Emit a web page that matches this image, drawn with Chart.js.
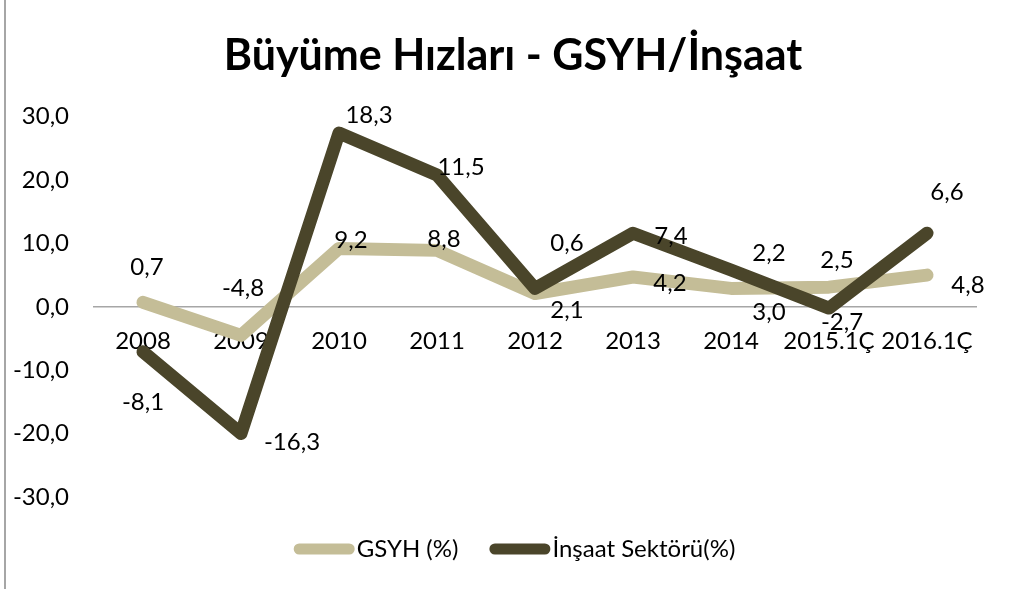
<!DOCTYPE html>
<html><head><meta charset="utf-8">
<script src="https://cdn.jsdelivr.net/npm/chart.js@4"></script>
<style>
html,body{margin:0;padding:0;background:#fff;}
#wrap{position:relative;width:1013px;height:589px;}
#frame{position:absolute;left:4px;top:0;width:2px;height:589px;background:#a6a6a6;}
canvas{position:absolute;left:0;top:0;}
</style></head><body>
<div id="wrap"><canvas id="c" width="1013" height="589"></canvas><div id="frame"></div></div>
<script>
const categories = ['2008','2009','2010','2011','2012','2013','2014','2015.1Ç','2016.1Ç'];
const gsyhValues = [0.7, -4.5, 9.2, 8.9, 2.1, 4.7, 2.9, 3.1, 5.0];
const insaatValues = [-7.1, -20.0, 27.4, 20.8, 2.9, 11.6, 5.8, -0.2, 11.6];
const gsyhLabels = ['0,7','-4,8','9,2','8,8','2,1','4,2','3,0','2,5','4,8'];
const insaatLabels = ['-8,1','-16,3','18,3','11,5','0,6','7,4','2,2','-2,7','6,6'];
const yTickValues = [-30,-20,-10,0,10,20,30];
const seriesNames = ['GSYH (%)','İnşaat Sektörü(%)'];
const chartTitle = 'Büyüme Hızları - GSYH/İnşaat';

// label placement relative to each point (pixels)
const gsyhLabelOffsets = [[4,-35],[2,-47],[12,-8],[7,-11],[32,17],[37,6],[38,24],[8,-27],[41,10]];
const insaatLabelOffsets = [[0,50],[51,9],[30,-18],[24,-8],[32,-45],[38,3],[38,-17],[13,14],[20,-41]];

const FONT = 'Lato, "Open Sans", sans-serif';
const TXT = 24;
Chart.defaults.font.family = FONT;
Chart.defaults.color = '#000';

const pointLabelPlugin = {
  id: 'pointLabels',
  afterDatasetsDraw(chart) {
    const ctx = chart.ctx;
    ctx.save();
    ctx.font = TXT + 'px ' + FONT;
    ctx.fillStyle = '#000';
    ctx.textAlign = 'center';
    ctx.textBaseline = 'middle';
    chart.data.datasets.forEach((ds, i) => {
      const meta = chart.getDatasetMeta(i);
      meta.data.forEach((pt, j) => {
        const off = ds.labelOffsets[j];
        ctx.fillText(ds.valueLabels[j], pt.x + off[0], pt.y + off[1]);
      });
    });
    ctx.restore();
  }
};

const titleShiftPlugin = {
  id: 'titleShift',
  afterLayout(chart) {
    const t = chart.titleBlock;
    if (t) { t.left = 50; t.right = chart.chartArea.right; }
  }
};

const customLegendPlugin = {
  id: 'customLegend',
  afterDraw(chart) {
    const ctx = chart.ctx;
    ctx.save();
    ctx.font = TXT + 'px ' + FONT;
    ctx.textBaseline = 'middle';
    ctx.textAlign = 'left';
    const sw = 61, gapText = 2, gapItem = 31;
    const items = chart.data.datasets.map(ds => ({ text: ds.label, color: ds.borderColor, w: ctx.measureText(ds.label).width }));
    let total = 0;
    items.forEach((it, i) => { total += sw + gapText + it.w + (i ? gapItem : 0); });
    let x = chart.width / 2 + 8 - total / 2;
    const y = chart.chartArea.bottom + 52;
    items.forEach((it, i) => {
      if (i) x += gapItem;
      ctx.strokeStyle = it.color;
      ctx.lineWidth = 11;
      ctx.lineCap = 'round';
      ctx.beginPath();
      ctx.moveTo(x + 5.5, y);
      ctx.lineTo(x + sw - 5.5, y);
      ctx.stroke();
      x += sw + gapText;
      ctx.fillStyle = '#000';
      ctx.fillText(it.text, x, y);
      x += it.w;
    });
    ctx.restore();
  }
};

new Chart(document.getElementById('c'), {
  type: 'line',
  data: {
    labels: categories,
    datasets: [
      {
        label: seriesNames[0],
        data: gsyhValues,
        valueLabels: gsyhLabels,
        labelOffsets: gsyhLabelOffsets,
        borderColor: '#c4bd97',
        backgroundColor: '#c4bd97',
        borderWidth: 13,
        borderCapStyle: 'round',
        borderJoinStyle: 'round',
        pointRadius: 0,
        tension: 0,
        order: 2
      },
      {
        label: seriesNames[1],
        data: insaatValues,
        valueLabels: insaatLabels,
        labelOffsets: insaatLabelOffsets,
        borderColor: '#4a452a',
        backgroundColor: '#4a452a',
        borderWidth: 13,
        borderCapStyle: 'round',
        borderJoinStyle: 'round',
        pointRadius: 0,
        tension: 0,
        order: 1
      }
    ]
  },
  options: {
    responsive: false,
    animation: false,
    layout: { padding: { left: 0, right: 37, top: 0, bottom: 92 } },
    plugins: {
      legend: { display: false },
      tooltip: { enabled: false },
      title: {
        display: true,
        text: chartTitle,
        color: '#000',
        font: { size: 43, weight: 'bold', family: FONT },
        padding: { top: 30, bottom: 35 }
      }
    },
    scales: {
      x: {
        type: 'category',
        offset: true,
        position: { y: 0 },
        grid: { display: false, drawTicks: false },
        border: { display: true, color: '#a6a6a6', width: 1.5 },
        ticks: { font: { size: TXT }, color: '#000', padding: 20, maxRotation: 0, autoSkip: false }
      },
      y: {
        min: -30,
        max: 30,
        afterBuildTicks(scale) { scale.ticks = yTickValues.map(v => ({ value: v })); },
        afterFit(scale) { scale.width = 94; },
        grid: { display: false, drawTicks: false },
        border: { display: false },
        ticks: {
          font: { size: TXT },
          color: '#000',
          padding: 25,
          callback: v => v.toFixed(1).replace('.', ',')
        }
      }
    }
  },
  plugins: [pointLabelPlugin, titleShiftPlugin, customLegendPlugin]
});
</script>
</body></html>
